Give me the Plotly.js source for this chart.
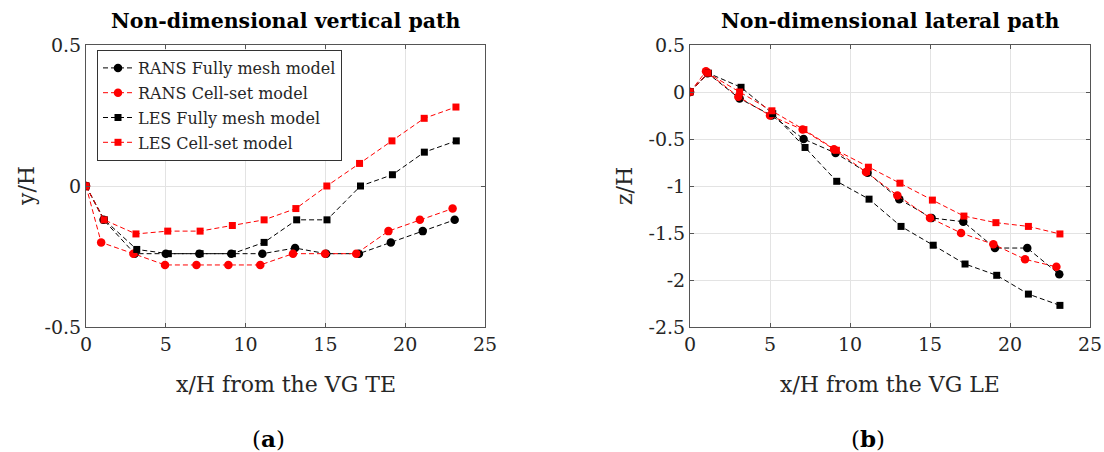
<!DOCTYPE html>
<html>
<head>
<meta charset="utf-8">
<script src="https://cdn.plot.ly/plotly-3.0.1.min.js"></script>
<style>
  html, body { margin: 0; padding: 0; background: #fff; }
  #chart { width: 1104px; height: 452px; }
</style>
</head>
<body>
<div id="chart"></div>
<script>
// ---------- Data ----------
const seriesNames = ['RANS Fully mesh model', 'RANS Cell-set model', 'LES Fully mesh model', 'LES Cell-set model'];

// (a) Non-dimensional vertical path
const xRansFullA = [0, 1.1, 3.05, 5.0, 7.1, 9.1, 11.05, 13.1, 15.05, 17.1, 19.1, 21.1, 23.1];
const yRansFullA = [0, -0.12, -0.24, -0.24, -0.24, -0.24, -0.24, -0.22, -0.24, -0.24, -0.20, -0.16, -0.12];
const xRansCellA = [0, 0.95, 2.97, 4.95, 6.92, 8.92, 10.92, 12.97, 14.98, 16.93, 18.95, 20.92, 22.97];
const yRansCellA = [0, -0.20, -0.24, -0.28, -0.28, -0.28, -0.28, -0.24, -0.24, -0.24, -0.16, -0.12, -0.08];
const xLesFullA  = [0, 1.15, 3.18, 5.16, 7.15, 9.17, 11.16, 13.2, 15.1, 17.2, 19.2, 21.2, 23.2];
const yLesFullA  = [0, -0.12, -0.225, -0.24, -0.24, -0.24, -0.20, -0.12, -0.12, 0, 0.04, 0.12, 0.16];
const xLesCellA  = [0, 1.13, 3.13, 5.12, 7.15, 9.17, 11.16, 13.15, 15.09, 17.14, 19.17, 21.19, 23.18];
const yLesCellA  = [0, -0.12, -0.17, -0.16, -0.16, -0.14, -0.12, -0.08, 0, 0.08, 0.16, 0.24, 0.28];

// (b) Non-dimensional lateral path
const xRansFullB = [0, 1.1, 3.1, 5.1, 7.1, 9.1, 11.1, 13.08, 15.1, 17.08, 19.06, 21.08, 23.08];
const yRansFullB = [0, 0.20, -0.07, -0.25, -0.50, -0.65, -0.86, -1.14, -1.34, -1.38, -1.66, -1.66, -1.94];
const xRansCellB = [0, 1.0, 3.02, 5.0, 7.04, 9.0, 11.0, 12.96, 15.0, 16.94, 18.96, 20.94, 22.9];
const yRansCellB = [0, 0.22, -0.05, -0.25, -0.40, -0.61, -0.85, -1.10, -1.34, -1.50, -1.62, -1.78, -1.86];
const xLesFullB  = [0, 1.15, 3.19, 5.17, 7.19, 9.17, 11.19, 13.19, 15.2, 17.19, 19.17, 21.15, 23.12];
const yLesFullB  = [0, 0.20, 0.05, -0.23, -0.59, -0.95, -1.14, -1.43, -1.63, -1.83, -1.95, -2.15, -2.27];
const xLesCellB  = [0, 1.12, 3.1, 5.12, 7.12, 9.15, 11.15, 13.12, 15.15, 17.12, 19.12, 21.15, 23.12];
const yLesCellB  = [0, 0.20, 0.0, -0.20, -0.40, -0.62, -0.80, -0.97, -1.15, -1.32, -1.39, -1.43, -1.51];

// Ticks
const xTickVals = [0, 5, 10, 15, 20, 25];
const xTickText = ['0', '5', '10', '15', '20', '25'];
const yTickValsA = [-0.5, 0, 0.5];
const yTickTextA = ['-0.5', '0', '0.5'];
const yTickValsB = [-2.5, -2, -1.5, -1, -0.5, 0, 0.5];
const yTickTextB = ['-2.5', '-2', '-1.5', '-1', '-0.5', '0', '0.5'];

// Texts
const titleA = 'Non-dimensional vertical path';
const titleB = 'Non-dimensional lateral path';
const xTitleA = 'x/H from the VG TE';
const xTitleB = 'x/H from the VG LE';
const yTitleA = 'y/H';
const yTitleB = 'z/H';

// ---------- Styling ----------
const W = 1104, H = 452;
const FONT = 'DejaVu Serif, serif';
const TXT = '#262626';
const RED = '#ff0000', BLACK = '#000000';
const DASH = '5px,3px';
const styles = [
  {color: BLACK, symbol: 'circle', size: 8.5},
  {color: RED, symbol: 'circle', size: 8.5},
  {color: BLACK, symbol: 'square', size: 7},
  {color: RED, symbol: 'square', size: 7}
];
const dataA = [[xRansFullA, yRansFullA], [xRansCellA, yRansCellA], [xLesFullA, yLesFullA], [xLesCellA, yLesCellA]];
const dataB = [[xRansFullB, yRansFullB], [xRansCellB, yRansCellB], [xLesFullB, yLesFullB], [xLesCellB, yLesCellB]];

const traces = [];
for (let i = 0; i < 4; i++) {
  const s = styles[i];
  traces.push({
    x: dataA[i][0], y: dataA[i][1], xaxis: 'x', yaxis: 'y',
    type: 'scatter', mode: 'lines+markers', name: seriesNames[i],
    legendgroup: 'g' + i, showlegend: true,
    line: {color: s.color, width: 1, dash: DASH},
    marker: {color: s.color, symbol: s.symbol, size: s.size, line: {width: 0}}
  });
}
for (let i = 0; i < 4; i++) {
  const s = styles[i];
  traces.push({
    x: dataB[i][0], y: dataB[i][1], xaxis: 'x2', yaxis: 'y2',
    type: 'scatter', mode: 'lines+markers', name: seriesNames[i],
    legendgroup: 'g' + i, showlegend: false,
    line: {color: s.color, width: 1, dash: DASH},
    marker: {color: s.color, symbol: s.symbol, size: s.size, line: {width: 0}}
  });
}

const px = v => v / W;
const py = v => 1 - v / H;

function axisBase() {
  return {
    showline: true, linecolor: '#555', linewidth: 1, mirror: 'ticks',
    ticks: 'inside', ticklen: 4, tickcolor: '#555', tickwidth: 1,
    showgrid: true, gridcolor: '#e3e3e3', gridwidth: 1,
    zeroline: false, tickmode: 'array',
    tickfont: {family: FONT, size: 19, color: TXT},
    fixedrange: true
  };
}

const layout = {
  width: W, height: H,
  margin: {l: 0, r: 0, t: 0, b: 0},
  paper_bgcolor: '#fff', plot_bgcolor: '#fff',
  showlegend: true,
  legend: {
    x: px(97), y: py(50), xanchor: 'left', yanchor: 'top',
    bgcolor: '#fff', bordercolor: '#333', borderwidth: 1,
    font: {family: FONT, size: 16, color: TXT},
    tracegroupgap: 1
  },
  xaxis: Object.assign(axisBase(), {
    domain: [px(86), px(485)], range: [0, 25], anchor: 'y',
    tickvals: xTickVals, ticktext: xTickText
  }),
  yaxis: Object.assign(axisBase(), {
    domain: [py(327), py(45)], range: [-0.5, 0.5], anchor: 'x',
    tickvals: yTickValsA, ticktext: yTickTextA
  }),
  xaxis2: Object.assign(axisBase(), {
    domain: [px(690), px(1090)], range: [0, 25], anchor: 'y2',
    tickvals: xTickVals, ticktext: xTickText
  }),
  yaxis2: Object.assign(axisBase(), {
    domain: [py(327), py(45)], range: [-2.5, 0.5], anchor: 'x2',
    tickvals: yTickValsB, ticktext: yTickTextB
  }),
  annotations: [
    {text: '<b>' + titleA + '</b>', x: px(285.5), y: py(21), xref: 'paper', yref: 'paper',
     xanchor: 'center', yanchor: 'middle', showarrow: false, font: {family: FONT, size: 20.5, color: '#000'}},
    {text: '<b>' + titleB + '</b>', x: px(890), y: py(21), xref: 'paper', yref: 'paper',
     xanchor: 'center', yanchor: 'middle', showarrow: false, font: {family: FONT, size: 20.5, color: '#000'}},
    {text: xTitleA, x: px(285.5), y: py(384), xref: 'paper', yref: 'paper',
     xanchor: 'center', yanchor: 'middle', showarrow: false, font: {family: FONT, size: 22, color: TXT}},
    {text: xTitleB, x: px(890), y: py(384), xref: 'paper', yref: 'paper',
     xanchor: 'center', yanchor: 'middle', showarrow: false, font: {family: FONT, size: 22, color: TXT}},
    {text: yTitleA, x: px(26), y: py(186), xref: 'paper', yref: 'paper', textangle: -90,
     xanchor: 'center', yanchor: 'middle', showarrow: false, font: {family: FONT, size: 22, color: TXT}},
    {text: yTitleB, x: px(624), y: py(186), xref: 'paper', yref: 'paper', textangle: -90,
     xanchor: 'center', yanchor: 'middle', showarrow: false, font: {family: FONT, size: 22, color: TXT}},
    {text: '(<b>a</b>)', x: px(268), y: py(438), xref: 'paper', yref: 'paper',
     xanchor: 'center', yanchor: 'middle', showarrow: false, font: {family: FONT, size: 23, color: '#000'}},
    {text: '(<b>b</b>)', x: px(868), y: py(438), xref: 'paper', yref: 'paper',
     xanchor: 'center', yanchor: 'middle', showarrow: false, font: {family: FONT, size: 23, color: '#000'}}
  ]
};

Plotly.newPlot('chart', traces, layout, {displayModeBar: false, staticPlot: true});
</script>
</body>
</html>
